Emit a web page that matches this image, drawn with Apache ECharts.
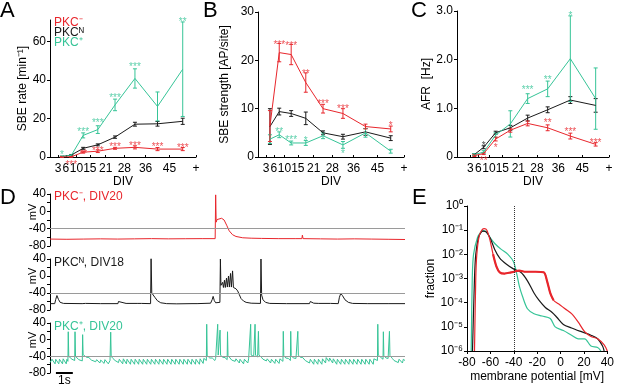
<!DOCTYPE html>
<html>
<head>
<meta charset="utf-8">
<script src="https://cdn.jsdelivr.net/npm/echarts@6.0.0/dist/echarts.min.js"></script>
<style>
  html, body { margin: 0; padding: 0; background: #fff; }
  #chart { width: 617px; height: 385px; }
</style>
</head>
<body>
<div id="chart"></div>
<script>
// DIV bins: points sit at bin centres, ticks at bin edges
const divBins = [4.5, 8, 12.5, 18, 24.5, 32, 40.5, 50]
const divTicks = [3, 6, 10, 15, 21, 28, 36, 45, 55]
const divTickLabels = ['3', '6', '10', '15', '21', '28', '36', '45', '+']

// A: SBE rate [1/min]
const rateRed = [0, 0.1, 2.5, 3, 4.5, 5, 4.1, 4.1]
const rateRedErr = [0.2, 0.2, 0.5, 0.7, 0.5, 0.8, 0.8, 0.8]
const rateBlack = [0.2, 1, 4.5, 6.3, 10.3, 17, 17.2, 18.5]
const rateBlackErr = [0.2, 0.3, 0.5, 0.5, 0.6, 1.0, 1.2, 1.6]
const rateCyan = [0.3, 0.8, 11.2, 14.2, 27, 40.7, 26.2, 45.5]
const rateCyanErr = [0.2, 0.4, 1.3, 2, 3, 5, 7.5, 24.5]
const rateStarsRed = [[8, -2.5, '***'], [12.5, 3, '**'], [18, 4.4, '***'], [24.5, 6.6, '***'], [32, 7.3, '***'], [40.5, 6.6, '***'], [50, 6.2, '***']]
const rateStarsCyan = [[4.5, 2.5, '*'], [12.5, 14.5, '***'], [18, 19.3, '***'], [24.5, 32, '***'], [32, 47.9, '***'], [50, 71.5, '**']]

// B: SBE strength [AP/site]
const strRed = [6.4, 21.6, 21.2, 15.4, 10, 9, 6.3, 5.8]
const strRedErr = [3.2, 1.9, 2.1, 2, 0.9, 1, 0.5, 0.6]
const strBlack = [6.3, 9.4, 9, 8, 5, 4.2, 5.2, 3.9]
const strBlackErr = [3.7, 0.7, 0.6, 1.3, 0.4, 0.5, 0.7, 0.5]
const strCyan = [3.7, 4.6, 2.9, 2.9, 4.4, 2.5, 5, 1.2]
const strCyanErr = [0.9, 0.6, 0.4, 0.5, 0.6, 0.7, 0.9, 0.4]
const strStarsRed = [[8, 23.8, '***'], [12.5, 23.5, '***'], [18, 17.8, '**'], [24.5, 11.6, '***'], [32, 10.6, '***'], [50, 7, '*']]
const strStarsCyan = [[8, 5.8, '**'], [12.5, 4.1, '***'], [18, 3.8, '*'], [32, 1.2, '*']]

// C: AFR [Hz]
const afrRed = [0.03, 0.07, 0.37, 0.55, 0.69, 0.6, 0.43, 0.26]
const afrRedErr = [0.02, 0.02, 0.04, 0.04, 0.05, 0.06, 0.06, 0.035]
const afrBlack = [0.05, 0.2, 0.5, 0.6, 0.8, 0.97, 1.17, 1.06]
const afrBlackErr = [0.02, 0.03, 0.03, 0.05, 0.06, 0.06, 0.07, 0.14]
const afrCyan = [0.05, 0.1, 0.45, 0.68, 1.2, 1.4, 2.02, 1.2]
const afrCyanErr = [0.02, 0.03, 0.05, 0.27, 0.1, 0.16, 0.88, 0.63]
const afrStarsRed = [[8, -0.03, '**'], [12.5, 0.24, '*'], [32, 0.76, '**'], [40.5, 0.58, '***'], [50, 0.35, '***']]
const afrStarsCyan = [[24.5, 1.43, '***'], [32, 1.63, '**'], [40.5, 2.96, '*']]
const afrStarsBlack = [[8, 0.28, '*']]

// D: membrane potential traces [s, mV]
const traceRed = [[0, -64], [1, -64.5], [2, -64], [3, -63.5], [4, -64], [5, -63.5], [6, -63], [7, -63.5], [8, -63.2], [9, -63], [9.77, -63],
  [9.8, 38], [9.83, -25], [9.88, -19], [9.96, -16], [10.15, -16], [10.3, -20], [10.45, -32], [10.6, -45], [10.8, -54], [11.0, -58],
  [11.4, -61], [11.9, -62], [11.93, -58], [11.97, -62], [12.5, -62.5], [13.5, -63], [14.5, -63], [14.9, -63], [14.93, -55], [14.97, -63],
  [16, -63.5], [17, -64], [18, -63.5], [19, -64], [20, -64.5], [21, -65]]
const traceBlack = [[0, -65], [0.28, -65], [0.34, -55], [0.41, -46], [0.5, -55], [0.6, -62], [0.8, -64.5], [1.9, -65], [1.93, -61], [1.98, -64.5],
  [2.1, -64.5], [2.13, -61], [2.18, -64.5], [3, -65], [4.02, -65], [4.05, -60], [4.1, -64.5], [4.5, -64.5], [4.53, -61], [4.58, -64.5],
  [5.2, -64.5], [5.23, -61], [5.28, -64.5], [5.4, -64.5], [5.43, -61], [5.48, -65], [5.95, -65], [5.98, 41], [6.02, -40], [6.1, -43],
  [6.2, -50], [6.35, -58], [6.55, -63], [6.9, -65], [7.5, -65.5], [8.4, -65], [8.45, -61], [8.5, -65], [8.7, -65], [8.73, -61], [8.78, -65],
  [9.5, -64], [9.6, -55], [9.65, -48], [9.72, -58], [9.8, -63], [10.05, -62], [10.08, 40], [10.11, -22], [10.17, -26], [10.21, -15],
  [10.26, -27], [10.32, -10], [10.37, -27], [10.44, -5], [10.49, -26], [10.56, 0], [10.61, -26], [10.68, 6], [10.73, -26], [10.8, 12],
  [10.85, -27], [11.0, -30], [11.1, -35], [11.2, -44], [11.3, -53], [11.45, -59],
  [11.6, -62], [11.9, -64], [12.45, -64.5], [12.48, 40], [12.52, -45], [12.6, -56], [12.75, -62], [13, -64.5], [14, -65], [15.35, -65],
  [15.4, -60], [15.45, -64], [15.6, -64], [15.63, -61], [15.68, -64.5], [15.9, -64.5], [15.93, -62], [15.98, -64.5], [16.6, -64.5],
  [16.63, -62], [16.68, -65], [17.05, -65], [17.12, -50], [17.2, -41], [17.3, -46], [17.45, -56], [17.65, -62], [17.9, -64.5], [18.8, -65],
  [18.83, -62], [18.88, -65], [20.0, -65], [20.03, -61], [20.08, -64.5], [21, -65]]
const traceCyan = [[0, -55], [0.08, -59], [0.12, -47], [0.3, -58], [0.34, -47], [0.52, -58], [0.56, -47], [0.74, -58], [0.78, -46], [0.96, -58], [1.0, -47], [1.06, -52],
  [1.08, 19], [1.11, -40], [1.2, -43], [1.3, -47], [1.36, -45], [1.46, -50],
  [1.48, 19], [1.51, -40], [1.6, -44], [1.7, -48], [1.76, -45], [1.91, -51],
  [1.93, 12], [1.96, -36], [2.05, -38], [2.15, -42], [2.25, -46], [2.3, -43], [2.45, -49], [2.52, -46], [2.7, -53], [2.76, -48], [2.95, -56], [3.0, -49], [3.2, -57], [3.25, -48], [3.45, -58], [3.55, -50],
  [3.59, 18], [3.62, -40], [3.72, -45], [3.85, -50], [3.9, -47], [4.05, -55], [4.1, -47], [4.3, -58],
  [4.34, -46], [4.52, -58], [4.56, -47], [4.76, -59], [4.8, -47], [5.0, -59], [5.04, -47], [5.24, -59], [5.28, -47], [5.48, -59], [5.52, -47],
  [5.72, -59], [5.76, -47], [5.96, -59], [6.0, -47], [6.2, -59], [6.24, -47], [6.44, -59], [6.48, -47], [6.68, -59], [6.72, -47], [6.92, -59],
  [6.96, -47], [7.16, -59], [7.2, -47], [7.4, -59], [7.44, -47], [7.64, -59], [7.68, -47], [7.88, -59], [7.92, -47], [8.12, -59], [8.16, -47],
  [8.36, -59], [8.4, -47], [8.6, -59], [8.64, -47], [8.84, -59], [8.88, -46], [9.06, -57], [9.1, -45], [9.25, -50],
  [9.27, 37], [9.3, -38], [9.45, -44], [9.55, -48], [9.6, -44], [9.75, -50], [9.8, -45], [9.9, -48],
  [9.92, 37], [9.95, -37], [10.04, -40],
  [10.06, 23], [10.09, -37], [10.2, -42], [10.3, -46], [10.35, -43], [10.48, -48],
  [10.5, 19], [10.53, -38], [10.65, -44], [10.75, -49], [10.8, -45], [10.95, -52], [11.0, -46], [11.2, -56], [11.24, -47], [11.45, -58], [11.5, -47], [11.7, -56], [11.75, -46], [11.85, -49],
  [11.87, 37], [11.9, -37], [12.05, -40], [12.11, -42],
  [12.13, 37], [12.16, -37], [12.28, -42], [12.31, -43],
  [12.33, 20], [12.36, -37], [12.5, -42], [12.6, -47], [12.65, -44], [12.8, -51], [12.85, -46], [13.05, -56], [13.1, -47], [13.3, -57], [13.35, -47], [13.55, -57], [13.6, -46], [13.78, -52],
  [13.8, 20], [13.83, -38], [13.95, -44], [14.05, -48], [14.1, -45], [14.22, -50],
  [14.24, 20], [14.27, -38], [14.4, -44], [14.5, -48], [14.55, -45], [14.64, -49],
  [14.66, 20], [14.69, -37], [14.8, -42], [14.9, -46], [14.95, -43], [15.1, -50], [15.15, -46], [15.35, -56], [15.4, -47], [15.6, -59],
  [15.64, -47], [15.84, -59], [15.88, -47], [16.08, -59], [16.12, -46], [16.3, -56], [16.34, -43], [16.5, -52], [16.54, -44], [16.72, -56],
  [16.76, -46], [16.96, -59], [17.0, -47], [17.2, -59], [17.24, -47], [17.44, -59], [17.48, -47], [17.68, -59], [17.72, -47], [17.92, -59],
  [17.96, -47], [18.16, -59], [18.2, -47], [18.4, -59], [18.44, -47], [18.64, -59], [18.68, -47], [18.88, -59], [18.92, -47], [19.12, -59],
  [19.16, -46], [19.37, -50],
  [19.39, 37], [19.42, -37], [19.55, -42], [19.62, -46], [19.66, -43], [19.7, -47],
  [19.72, 19], [19.75, -38], [19.88, -44], [19.95, -48], [20.0, -45], [20.06, -48],
  [20.08, 20], [20.11, -38], [20.25, -45], [20.35, -50], [20.4, -46], [20.6, -55], [20.65, -47], [20.85, -56], [20.9, -47], [21, -50]]
const scaleBar = [[0.35, -80], [1.35, -80]]
const mvLabelTicks = [-80, -40, 0, 40]
const mvMinorTicks = [-80, -60, -40, -20, 0, 20, 40]

// E: membrane potential distributions [mV, fraction]
const distBlack = [[-75.3, 1e-6], [-73.6, 1e-3], [-72.5, 1e-2], [-70.2, 0.05], [-68, 0.08], [-66.5, 0.092], [-64, 0.088], [-60.4, 0.05],
  [-56.3, 0.016], [-52, 0.007], [-46.5, 0.004], [-40.3, 0.0025], [-34, 0.0018], [-28.3, 8e-4], [-22.7, 2.5e-4], [-18.5, 1.26e-4],
  [-13, 6.3e-5], [-7.4, 4e-5], [-3.2, 2.5e-5], [2.4, 1.26e-5], [9.4, 9e-6], [17.8, 6.3e-6], [26, 4.5e-6], [31.7, 3.2e-6], [35.9, 1.6e-6], [37.3, 1e-6]]
const distRed = [[-73.6, 1e-6], [-72.5, 1e-3], [-71.6, 1e-2], [-69.5, 0.06], [-67, 0.105], [-65.2, 0.115], [-63, 0.1], [-60.4, 0.04],
  [-57.7, 0.01], [-54.9, 0.0032], [-52, 0.0018], [-48, 0.0016], [-42.3, 0.0018], [-35.3, 0.0021], [-29.7, 0.0019], [-21.3, 0.0019],
  [-14.4, 0.0018], [-11.6, 8e-4], [-8.8, 2.5e-4], [-6, 1.26e-4], [-1.8, 9e-5], [3.8, 5.6e-5], [9.4, 3.5e-5], [15, 1.6e-5], [20.6, 6.3e-6],
  [26, 4e-6], [31.7, 3.2e-6], [37.3, 1.8e-6], [40, 1e-6]]
const distCyan = [[-76.4, 1e-6], [-75.5, 1e-3], [-74.4, 1e-2], [-71, 0.05], [-68, 0.085], [-66, 0.095], [-63, 0.08], [-60.4, 0.05],
  [-56.3, 0.028], [-50.7, 0.016], [-45, 0.01], [-40.3, 0.005], [-37.5, 0.0016], [-35.3, 5e-4], [-32.5, 1.8e-4], [-28.3, 5.6e-5],
  [-22.7, 3.5e-5], [-15.8, 2.8e-5], [-8.8, 2.2e-5], [-4.6, 1e-5], [2.4, 7e-6], [9.4, 4.5e-6], [15, 3.2e-6], [20.6, 3.2e-6], [26, 1.6e-6],
  [31.7, 1.4e-6], [34.5, 1e-6]]
const fracTickLabels = ['10⁻⁶', '10⁻⁵', '10⁻⁴', '10⁻³', '10⁻²', '10⁻¹', '10⁰']

const font = "'Liberation Sans', Arial, sans-serif"
const RED = '#e8262c'
const BLACK = '#1a1a1a'
const CYAN = '#36c497'
const GRAY = '#9a9a9a'

const chart = echarts.init(document.getElementById('chart'))

const axisLine = { onZero: false, lineStyle: { color: '#000', width: 1 } }
const labelStyle = { color: '#000', fontSize: 12, fontFamily: font }

function zip(xs, ys) {
	return xs.map((x, i) => [x, ys[i]])
}

function lineSeries(gi, data, color, width, smooth) {
	return {
		type: 'line', xAxisIndex: gi, yAxisIndex: gi, data: data,
		symbol: 'none', smooth: smooth || false, silent: true,
		lineStyle: { color: color, width: width || 1 }, itemStyle: { color: color }
	}
}

// vertical error bars with small caps
function errSeries(gi, values, errs, color) {
	return {
		type: 'custom', xAxisIndex: gi, yAxisIndex: gi, silent: true,
		itemStyle: { color: color },
		data: divBins.map((x, i) => [x, values[i], errs[i]]),
		renderItem: function (params, api) {
			const x = api.value(0), y = api.value(1), e = api.value(2)
			const top = api.coord([x, y + e])
			const bot = api.coord([x, y - e])
			const style = { stroke: color, lineWidth: 1 }
			return {
				type: 'group',
				children: [
					{ type: 'line', shape: { x1: top[0], y1: top[1], x2: bot[0], y2: bot[1] }, style: style },
					{ type: 'line', shape: { x1: top[0] - 2, y1: top[1], x2: top[0] + 2, y2: top[1] }, style: style },
					{ type: 'line', shape: { x1: bot[0] - 2, y1: bot[1], x2: bot[0] + 2, y2: bot[1] }, style: style }
				]
			}
		}
	}
}

function starSeries(gi, stars, color) {
	return {
		type: 'scatter', xAxisIndex: gi, yAxisIndex: gi, symbolSize: 0, clip: false, silent: true,
		data: stars.map((s) => ({ value: [s[0], s[1]], name: s[2] })),
		label: { show: true, position: 'inside', formatter: '{b}', color: color, fontSize: 10, fontFamily: font, offset: [0, 3] }
	}
}

function panel(gi, red, redErr, black, blackErr, cyan, cyanErr) {
	return [
		lineSeries(gi, zip(divBins, black), BLACK), errSeries(gi, black, blackErr, BLACK),
		lineSeries(gi, zip(divBins, cyan), CYAN), errSeries(gi, cyan, cyanErr, CYAN),
		lineSeries(gi, zip(divBins, red), RED), errSeries(gi, red, redErr, RED)
	]
}

function divAxis(gi, min) {
	return {
		type: 'value', gridIndex: gi, min: min, max: 55,
		name: 'DIV', nameLocation: 'middle', nameGap: 19, nameTextStyle: labelStyle,
		axisLine: axisLine,
		axisTick: { inside: true, length: 2, customValues: divTicks, lineStyle: { color: '#000' } },
		axisLabel: Object.assign({ customValues: divTicks, margin: 6, formatter: (v) => divTickLabels[divTicks.indexOf(v)] }, labelStyle),
		splitLine: { show: false }
	}
}

function valAxis(gi, opts) {
	return Object.assign({
		type: 'value', gridIndex: gi, nameLocation: 'middle', nameTextStyle: labelStyle,
		axisLine: axisLine,
		axisTick: { length: 3, lineStyle: { color: '#000' } },
		axisLabel: Object.assign({ margin: 4 }, labelStyle),
		splitLine: { show: false }
	}, opts)
}

function mvAxis(gi) {
	return valAxis(gi, {
		min: -80, max: 40,
		axisTick: { length: 3, customValues: mvMinorTicks, lineStyle: { color: '#000' } },
		axisLabel: Object.assign({ margin: 4, customValues: mvLabelTicks }, labelStyle)
	})
}

function timeAxis(gi) {
	return { type: 'value', gridIndex: gi, min: 0, max: 21, show: false }
}

function traceSeries(gi, data, color) {
	const s = lineSeries(gi, data, color, 1)
	s.markLine = {
		silent: true, symbol: 'none', label: { show: false },
		lineStyle: { color: GRAY, width: 1, type: 'solid' },
		data: [{ yAxis: -40 }]
	}
	return s
}

function text(x, y, str, color, size, rot) {
	return {
		type: 'text', x: x, y: y, rotation: rot || 0, silent: true,
		style: { text: str, fill: color, fontSize: size, fontFamily: font, align: rot ? 'center' : 'left', verticalAlign: 'middle' }
	}
}

const redBold = lineSeries(6, distRed.slice(8, 20), RED, 2.2, 0.3)

chart.setOption({
	animation: false,
	backgroundColor: '#fff',
	grid: [
		{ left: 50, top: 20, width: 146, height: 137 },
		{ left: 258, top: 12, width: 146, height: 145 },
		{ left: 457, top: 11, width: 152, height: 146 },
		{ left: 50, top: 194, width: 355, height: 52 },
		{ left: 50, top: 259, width: 355, height: 51 },
		{ left: 50, top: 323, width: 355, height: 50 },
		{ left: 467, top: 206, width: 143, height: 145 }
	],
	xAxis: [
		divAxis(0, 0), divAxis(1, 0), divAxis(2, -2),
		timeAxis(3), timeAxis(4), timeAxis(5),
		valAxis(6, {
			min: -80, max: 40, interval: 20, name: 'membrane potential [mV]', nameGap: 20,
			axisLabel: Object.assign({ margin: 6 }, labelStyle)
		})
	],
	yAxis: [
		valAxis(0, {
			min: 0, max: 71, name: 'SBE rate [min⁻¹]', nameGap: 19,
			axisTick: { length: 3, customValues: [0, 20, 40, 60], lineStyle: { color: '#000' } },
			axisLabel: Object.assign({ margin: 4, customValues: [0, 20, 40, 60] }, labelStyle)
		}),
		valAxis(1, { min: 0, max: 30, interval: 10, name: 'SBE strength [AP/site]', nameGap: 27 }),
		valAxis(2, {
			min: 0, max: 3, interval: 1, name: 'AFR  [Hz]', nameGap: 22,
			axisLabel: Object.assign({ margin: 4, formatter: (v) => (v === 0 ? '0' : v.toFixed(1)) }, labelStyle)
		}),
		mvAxis(3), mvAxis(4), mvAxis(5),
		valAxis(6, {
			type: 'log', logBase: 10, min: 1e-6, max: 1, name: 'fraction', nameGap: 30,
			axisLabel: Object.assign({ margin: 4, formatter: (v) => fracTickLabels[Math.round(Math.log10(v)) + 6] }, labelStyle)
		})
	],
	series: [].concat(
		panel(0, rateRed, rateRedErr, rateBlack, rateBlackErr, rateCyan, rateCyanErr),
		[starSeries(0, rateStarsRed, RED), starSeries(0, rateStarsCyan, CYAN)],
		panel(1, strRed, strRedErr, strBlack, strBlackErr, strCyan, strCyanErr),
		[starSeries(1, strStarsRed, RED), starSeries(1, strStarsCyan, CYAN)],
		panel(2, afrRed, afrRedErr, afrBlack, afrBlackErr, afrCyan, afrCyanErr),
		[starSeries(2, afrStarsRed, RED), starSeries(2, afrStarsCyan, CYAN), starSeries(2, afrStarsBlack, BLACK)],
		[
			traceSeries(3, traceRed, RED),
			traceSeries(4, traceBlack, BLACK),
			traceSeries(5, traceCyan, CYAN),
			lineSeries(5, scaleBar, '#000', 2)
		],
		[
			Object.assign(lineSeries(6, distCyan, CYAN, 1.2, 0.3), {
				markLine: {
					silent: true, symbol: 'none', label: { show: false },
					lineStyle: { color: '#333', width: 1, type: 'dotted' },
					data: [{ xAxis: -40 }]
				}
			}),
			lineSeries(6, distBlack, BLACK, 1.2, 0.3),
			lineSeries(6, distRed, RED, 1.2, 0.3),
			redBold
		]
	),
	graphic: [
		text(0, 11, 'A', '#000', 22),
		text(203, 11, 'B', '#000', 22),
		text(411, 11, 'C', '#000', 22),
		text(0, 198, 'D', '#000', 22),
		text(412, 198, 'E', '#000', 22),
		text(54, 23, 'PKC⁻', RED, 12),
		text(54, 33, 'PKCᴺ', BLACK, 12),
		text(54, 43, 'PKC⁺', CYAN, 12),
		text(54, 197, 'PKC⁻, DIV20', RED, 12),
		text(54, 263, 'PKCᴺ, DIV18', BLACK, 12),
		text(54, 327, 'PKC⁺, DIV20', CYAN, 12),
		text(33, 212, 'mV', '#000', 11, Math.PI / 2),
		text(33, 276, 'mV', '#000', 11, Math.PI / 2),
		text(33, 340, 'mV', '#000', 11, Math.PI / 2),
		text(58, 381, '1s', '#000', 12)
	]
})
</script>
</body>
</html>
